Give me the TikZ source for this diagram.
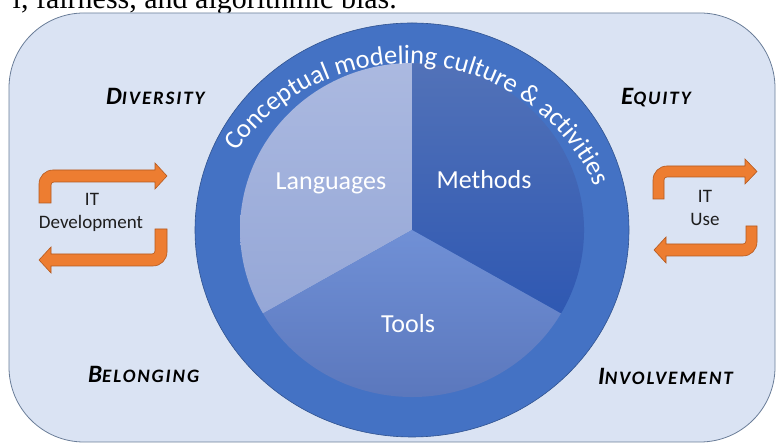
\documentclass[tikz,border=0pt]{standalone}
\usepackage{fontspec}
\setmainfont{Carlito}
\newfontfamily\serifface{Liberation Serif}
\newfontfamily\capsface[LetterSpace=10]{Carlito}
\usetikzlibrary{decorations.text}
\definecolor{bgfill}{HTML}{DAE3F3}
\definecolor{bgedge}{HTML}{6A7D98}
\definecolor{ringblue}{HTML}{4472C4}
\definecolor{ringedge}{HTML}{2F528F}
\definecolor{langtop}{HTML}{ABB9E0}
\definecolor{langbot}{HTML}{95A7D7}
\definecolor{methtop}{HTML}{5272B8}
\definecolor{methbot}{HTML}{2F58B2}
\definecolor{tooltop}{HTML}{7090D6}
\definecolor{toolbot}{HTML}{5874B9}
\definecolor{orangefill}{HTML}{ED7D31}
\definecolor{orangeedge}{HTML}{B4591F}
\definecolor{textdark}{HTML}{1E1E1E}
\tikzset{
  orangearrow/.style={fill=orangefill, draw=orangeedge, line width=0.6pt, line join=miter},
  segtext/.style={text=white, font=\fontsize{26}{26}\selectfont, inner sep=0, anchor=base},
  sidetext/.style={text=textdark, font=\fontsize{19}{19}\selectfont, inner sep=0, anchor=base},
  valuetext/.style={text=black, font=\capsface\bfseries\itshape, inner sep=0, anchor=base west}
}
\newcommand{\capfirst}[1]{{\fontsize{25}{25}\selectfont #1}}
\newcommand{\capsmall}[1]{{\fontsize{19}{19}\selectfont #1}}
\begin{document}
\begin{tikzpicture}[x=1pt,y=1pt]
\useasboundingbox (0,0) rectangle (776,443);
% cut-off text line at the top
\node[anchor=base east, inner sep=0, font=\serifface\fontsize{30}{30}\selectfont] (toptext) at (397,434) {l, fairness, and algorithmic bias.};
% background panel
\draw[draw=bgedge, fill=bgfill, rounded corners=75pt, line width=0.8pt] (9,1) rectangle (775,430);
% outer ring
\fill[ringblue] (412,213) ellipse[x radius=217, y radius=207];
\draw[ringedge, line width=0.6pt] (412,213) ellipse[x radius=217, y radius=207];
% pie segments
\shade[top color=langtop, bottom color=langbot] (412,213) -- ++(90:172 and 167) arc[start angle=90, end angle=210, x radius=172, y radius=167] -- cycle;
\shade[top color=methtop, bottom color=methbot] (412,213) -- ++(-30:172 and 167) arc[start angle=-30, end angle=90, x radius=172, y radius=167] -- cycle;
\shade[top color=tooltop, bottom color=toolbot] (412,213) -- ++(210:172 and 167) arc[start angle=210, end angle=330, x radius=172, y radius=167] -- cycle;
% segment labels
\node[segtext] (languages) at (331,253) {Languages};
\node[segtext] (methods) at (484,254) {Methods};
\node[segtext] (tools) at (408,110) {Tools};
% curved title
\path[decorate, decoration={text along path, text align=center, text color=white,
  text={|\fontsize{26.5}{26.5}\selectfont|Conceptual modeling culture {\&} activities}}]
  (406,172) ++(155:207) arc[start angle=155, end angle=14, radius=207];
% corner values
\node[valuetext] (diversity) at (106,338) {\capfirst{D}\capsmall{IVERSITY}};
\node[valuetext] (equity) at (621,338) {\capfirst{E}\capsmall{QUITY}};
\node[valuetext] (belonging) at (88,60) {\capfirst{B}\capsmall{ELONGING}};
\node[valuetext] (involvement) at (598,58) {\capfirst{I}\capsmall{NVOLVEMENT}};
% IT development arrows
\draw[orangearrow] (39,240) -- (39,259) arc[start angle=180, end angle=90, radius=14] -- (155,273) -- (155,280) -- (167,267) -- (155,254) -- (155,261) -- (54,261) arc[start angle=90, end angle=180, radius=3] -- (51,240) -- cycle;
\draw[orangearrow] (155,214) -- (155,192) arc[start angle=0, end angle=-90, radius=3] -- (51,189) -- (51,196) -- (39,183) -- (51,170) -- (51,177) -- (153,177) arc[start angle=-90, end angle=0, radius=14] -- (167,214) -- cycle;
\node[sidetext] (itdev1) at (92,237) {IT};
\node[sidetext] (itdev2) at (91,214) {Development};
% IT use arrows
\draw[orangearrow] (653,244) -- (653,263) arc[start angle=180, end angle=90, radius=14] -- (745,277) -- (745,284) -- (757,271.5) -- (745,259) -- (745,266) -- (667,266) arc[start angle=90, end angle=180, radius=3] -- (664,244) -- cycle;
\draw[orangearrow] (746,217) -- (746,202) arc[start angle=0, end angle=-90, radius=3] -- (666,199) -- (666,206) -- (654,193) -- (666,180) -- (666,187) -- (743,187) arc[start angle=-90, end angle=0, radius=14] -- (757,217) -- cycle;
\node[sidetext] (ituse1) at (705,240) {IT};
\node[sidetext] (ituse2) at (705,217) {Use};
\end{tikzpicture}
\end{document}
